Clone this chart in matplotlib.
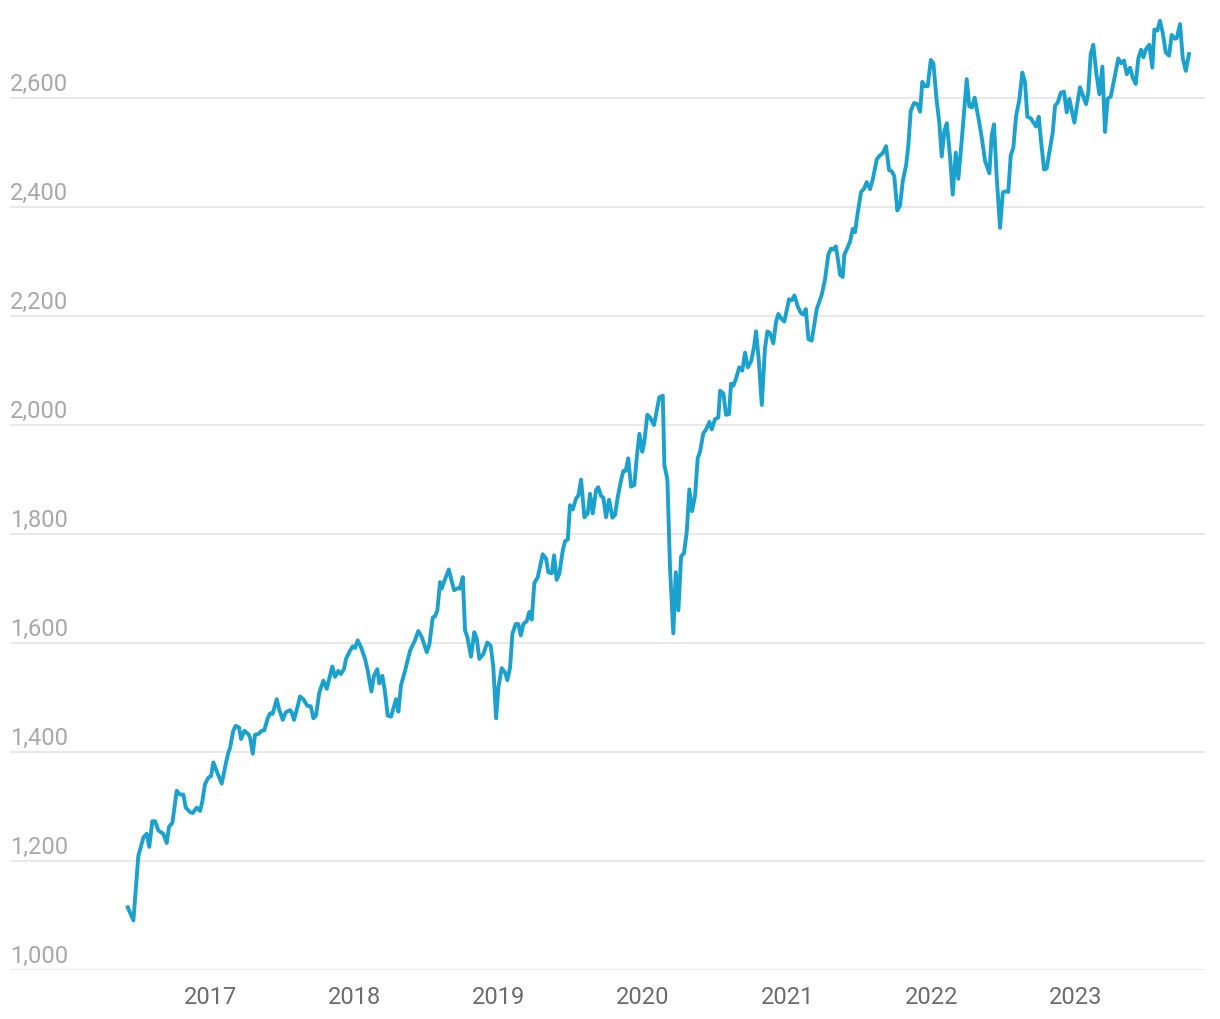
import matplotlib as mpl
mpl.use("Agg")
import matplotlib.pyplot as plt
from matplotlib import transforms

mpl.rcParams["font.family"] = ["Roboto", "DejaVu Sans"]

# weekly series, x as decimal years
years = [
    2016.430, 2016.469, 2016.503, 2016.538, 2016.561, 2016.579, 2016.600, 2016.619, 2016.642, 2016.676,
    2016.700, 2016.716, 2016.739, 2016.769, 2016.792, 2016.815, 2016.832, 2016.861, 2016.880, 2016.908,
    2016.931, 2016.947, 2016.965, 2016.988, 2017.007, 2017.023, 2017.046, 2017.081, 2017.111, 2017.127,
    2017.139, 2017.161, 2017.178, 2017.201, 2017.215, 2017.238, 2017.265, 2017.277, 2017.296, 2017.312,
    2017.335, 2017.358, 2017.376, 2017.400, 2017.416, 2017.434, 2017.462, 2017.478, 2017.504, 2017.525,
    2017.554, 2017.566, 2017.582, 2017.605, 2017.624, 2017.646, 2017.674, 2017.698, 2017.716, 2017.734,
    2017.757, 2017.785, 2017.809, 2017.847, 2017.866, 2017.889, 2017.906, 2017.928, 2017.942, 2017.970,
    2017.989, 2018.005, 2018.023, 2018.044, 2018.074, 2018.093, 2018.118, 2018.136, 2018.159, 2018.173,
    2018.194, 2018.213, 2018.231, 2018.254, 2018.289, 2018.305, 2018.323, 2018.351, 2018.386, 2018.420,
    2018.443, 2018.467, 2018.502, 2018.520, 2018.543, 2018.559, 2018.575, 2018.594, 2018.605, 2018.621,
    2018.654, 2018.691, 2018.720, 2018.732, 2018.751, 2018.767, 2018.783, 2018.808, 2018.831, 2018.848,
    2018.866, 2018.894, 2018.921, 2018.945, 2018.963, 2018.982, 2018.998, 2019.021, 2019.044, 2019.060,
    2019.079, 2019.095, 2019.118, 2019.136, 2019.153, 2019.171, 2019.194, 2019.212, 2019.229, 2019.247,
    2019.271, 2019.305, 2019.328, 2019.344, 2019.368, 2019.384, 2019.402, 2019.420, 2019.444, 2019.460,
    2019.479, 2019.494, 2019.513, 2019.536, 2019.552, 2019.571, 2019.594, 2019.617, 2019.633, 2019.652,
    2019.675, 2019.690, 2019.709, 2019.725, 2019.744, 2019.765, 2019.788, 2019.806, 2019.825, 2019.848,
    2019.864, 2019.880, 2019.898, 2019.917, 2019.940, 2019.957, 2019.975, 2019.995, 2020.009, 2020.030,
    2020.049, 2020.076, 2020.113, 2020.137, 2020.148, 2020.169, 2020.187, 2020.210, 2020.227, 2020.245,
    2020.264, 2020.284, 2020.303, 2020.321, 2020.340, 2020.361, 2020.379, 2020.395, 2020.418, 2020.437,
    2020.460, 2020.476, 2020.499, 2020.522, 2020.534, 2020.557, 2020.575, 2020.596, 2020.610, 2020.626,
    2020.645, 2020.667, 2020.688, 2020.707, 2020.726, 2020.749, 2020.769, 2020.783, 2020.802, 2020.823,
    2020.845, 2020.862, 2020.880, 2020.903, 2020.922, 2020.938, 2020.956, 2020.979, 2021.012, 2021.031,
    2021.049, 2021.072, 2021.093, 2021.111, 2021.128, 2021.146, 2021.169, 2021.204, 2021.238, 2021.261,
    2021.284, 2021.303, 2021.319, 2021.336, 2021.349, 2021.365, 2021.384, 2021.395, 2021.411, 2021.435,
    2021.453, 2021.469, 2021.488, 2021.511, 2021.532, 2021.550, 2021.573, 2021.592, 2021.620, 2021.638,
    2021.661, 2021.684, 2021.705, 2021.723, 2021.741, 2021.762, 2021.781, 2021.800, 2021.823, 2021.838,
    2021.855, 2021.878, 2021.901, 2021.920, 2021.935, 2021.954, 2021.973, 2021.994, 2022.012, 2022.035,
    2022.053, 2022.070, 2022.088, 2022.105, 2022.127, 2022.146, 2022.167, 2022.185, 2022.215, 2022.243,
    2022.261, 2022.280, 2022.298, 2022.324, 2022.347, 2022.370, 2022.400, 2022.416, 2022.432, 2022.451,
    2022.474, 2022.493, 2022.508, 2022.531, 2022.548, 2022.566, 2022.585, 2022.608, 2022.628, 2022.647,
    2022.663, 2022.687, 2022.709, 2022.723, 2022.742, 2022.758, 2022.779, 2022.797, 2022.815, 2022.839,
    2022.855, 2022.874, 2022.895, 2022.917, 2022.936, 2022.954, 2022.971, 2022.989, 2023.005, 2023.028,
    2023.047, 2023.070, 2023.085, 2023.102, 2023.120, 2023.139, 2023.162, 2023.183, 2023.201, 2023.220,
    2023.241, 2023.263, 2023.293, 2023.312, 2023.333, 2023.352, 2023.375, 2023.393, 2023.414, 2023.432,
    2023.451, 2023.467, 2023.485, 2023.508, 2023.529, 2023.543, 2023.563, 2023.582, 2023.601, 2023.622,
    2023.645, 2023.663, 2023.686, 2023.698, 2023.721, 2023.740, 2023.761, 2023.783,
]
values = [
    1115, 1091, 1209, 1243, 1250, 1226, 1273, 1273, 1256, 1250,
    1233, 1263, 1270, 1329, 1322, 1322, 1298, 1290, 1288, 1298,
    1292, 1310, 1341, 1353, 1356, 1381, 1365, 1342, 1381, 1399,
    1408, 1439, 1448, 1445, 1424, 1439, 1433, 1427, 1397, 1432,
    1433, 1439, 1440, 1462, 1471, 1470, 1497, 1479, 1459, 1473,
    1477, 1473, 1459, 1482, 1502, 1497, 1485, 1484, 1462, 1467,
    1509, 1531, 1516, 1557, 1538, 1549, 1543, 1552, 1571, 1586,
    1594, 1591, 1605, 1594, 1571, 1549, 1511, 1540, 1552, 1526,
    1540, 1509, 1467, 1465, 1497, 1474, 1522, 1549, 1586, 1605,
    1622, 1611, 1583, 1598, 1647, 1649, 1660, 1712, 1700, 1712,
    1735, 1697, 1701, 1700, 1721, 1623, 1611, 1575, 1620, 1608,
    1571, 1580, 1601, 1595, 1555, 1462, 1519, 1554, 1546, 1532,
    1555, 1617, 1635, 1635, 1614, 1635, 1640, 1657, 1643, 1710,
    1721, 1763, 1755, 1730, 1728, 1761, 1716, 1727, 1770, 1787,
    1790, 1853, 1845, 1865, 1871, 1900, 1831, 1838, 1874, 1838,
    1881, 1886, 1870, 1867, 1831, 1863, 1830, 1835, 1868, 1899,
    1916, 1916, 1939, 1887, 1890, 1942, 1984, 1951, 1969, 2019,
    2014, 2000, 2051, 2054, 1927, 1900, 1739, 1618, 1730, 1660,
    1759, 1765, 1804, 1882, 1842, 1871, 1939, 1951, 1985, 1992,
    2006, 1992, 2011, 2014, 2063, 2058, 2019, 2020, 2076, 2072,
    2086, 2106, 2100, 2133, 2106, 2117, 2143, 2172, 2120, 2037,
    2141, 2172, 2169, 2150, 2190, 2204, 2196, 2190, 2231, 2229,
    2238, 2218, 2206, 2203, 2213, 2158, 2155, 2213, 2239, 2267,
    2313, 2324, 2322, 2328, 2307, 2276, 2272, 2313, 2322, 2337,
    2360, 2354, 2390, 2428, 2434, 2446, 2433, 2451, 2488, 2494,
    2499, 2512, 2468, 2466, 2457, 2394, 2403, 2448, 2477, 2512,
    2577, 2591, 2589, 2575, 2630, 2622, 2622, 2670, 2664, 2595,
    2555, 2493, 2540, 2554, 2494, 2423, 2500, 2452, 2543, 2635,
    2585, 2583, 2601, 2564, 2528, 2485, 2462, 2532, 2552, 2454,
    2362, 2427, 2429, 2428, 2495, 2509, 2567, 2598, 2647, 2629,
    2566, 2563, 2554, 2548, 2566, 2521, 2469, 2471, 2500, 2537,
    2586, 2592, 2610, 2612, 2574, 2599, 2577, 2555, 2583, 2620,
    2606, 2589, 2610, 2681, 2698, 2650, 2607, 2658, 2538, 2599,
    2603, 2632, 2673, 2664, 2669, 2644, 2656, 2638, 2626, 2673,
    2689, 2675, 2690, 2698, 2656, 2726, 2724, 2742, 2720, 2684,
    2678, 2716, 2709, 2710, 2736, 2673, 2650, 2681,
]

year_ticks = [2017, 2018, 2019, 2020, 2021, 2022, 2023]
y_ticks = [1000, 1200, 1400, 1600, 1800, 2000, 2200, 2400, 2600]

LINE = "#1ba1cd"
GRID = "#e2e2e2"

fig = plt.figure(figsize=(12.2, 10.2), dpi=100)
ax = fig.add_axes([10 / 1220, 49 / 1020, 1195 / 1220, 971 / 1020])

ax.plot(years, values, color=LINE, lw=2.8, solid_joinstyle="round", zorder=3)

ax.set_xlim(2015.614, 2023.894)
ax.set_ylim(1000, 2782)

for s in ax.spines.values():
    s.set_visible(False)

ax.set_yticks(y_ticks)
ax.set_yticklabels([])
ax.yaxis.grid(True, color=GRID, lw=1.1, zorder=0)
ax.tick_params(axis="y", length=0)

ax.set_xticks(year_ticks)
ax.set_xticklabels([str(y) for y in year_ticks], fontsize=17, color="#6b6b6b")
ax.tick_params(axis="x", length=0, pad=11)

# y labels sit inside the plot, just above each gridline
lab_tr = transforms.offset_copy(ax.get_yaxis_transform(), fig=fig, x=0, y=6, units="points")
for v in y_ticks:
    ax.text(0, v, f"{v:,}", transform=lab_tr, fontsize=17, color="#a8a8a8",
            ha="left", va="baseline")

fig.savefig("out.png", dpi=100)
